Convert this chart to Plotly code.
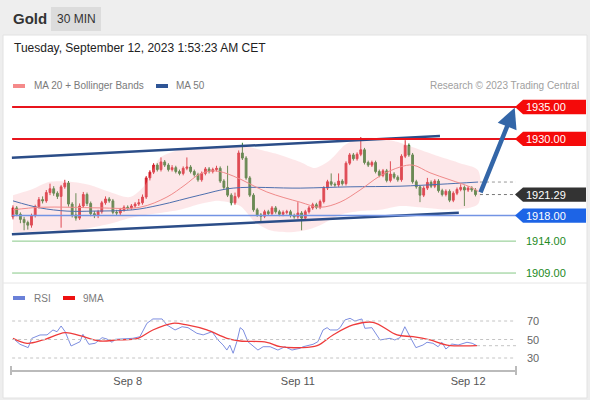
import plotly.graph_objects as go

# ---------------- data ----------------
opens = [1917.8, 1919.2, 1918.2, 1917.4, 1916.9, 1916.5, 1918.0, 1919.4, 1920.5, 1920.3,
         1921.6, 1922.2, 1921.5, 1921.0, 1922.5, 1923.1, 1919.8, 1918.1, 1917.6, 1919.5,
         1921.3, 1919.9, 1918.3, 1918.0, 1918.6, 1920.0, 1920.6, 1920.3, 1918.5, 1918.4,
         1918.9, 1919.3, 1919.2, 1919.5, 1919.8, 1920.0, 1920.9, 1923.9, 1924.8, 1925.9,
         1925.2, 1926.4, 1925.9, 1925.2, 1925.5, 1924.9, 1924.6, 1925.4, 1925.6, 1924.9,
         1924.4, 1923.6, 1924.6, 1925.3, 1924.9, 1925.2, 1925.4, 1923.4, 1922.4, 1921.2,
         1920.0, 1921.0, 1927.8, 1927.0, 1923.9, 1921.2, 1918.9, 1918.1, 1917.9, 1918.6,
         1918.3, 1919.2, 1918.6, 1918.2, 1918.5, 1918.6, 1918.0, 1917.8, 1918.4, 1917.6,
         1918.6, 1919.2, 1919.7, 1919.3, 1920.2, 1922.3, 1923.3, 1922.9, 1922.8, 1923.4,
         1923.0, 1926.2, 1927.5, 1926.9, 1927.6, 1928.3, 1926.3, 1925.9, 1926.3, 1924.9,
         1924.3, 1925.0, 1923.5, 1924.5, 1924.0, 1923.6, 1927.3, 1929.0, 1927.5, 1923.3,
         1922.5, 1921.2, 1922.3, 1923.2, 1922.6, 1923.4, 1921.9, 1921.3, 1921.8, 1920.4,
         1921.5, 1922.1, 1922.4, 1922.0, 1922.3, 1922.0]
highs = [1919.6, 1919.5, 1918.5, 1917.8, 1917.2, 1918.3, 1919.7, 1920.9, 1921.0, 1922.0,
         1923.0, 1922.6, 1921.8, 1922.8, 1923.6, 1923.4, 1920.1, 1921.5, 1919.9, 1921.7,
         1921.6, 1920.2, 1918.7, 1918.9, 1920.3, 1921.0, 1920.9, 1920.6, 1918.9, 1919.2,
         1919.6, 1919.6, 1919.8, 1920.1, 1920.6, 1921.3, 1924.2, 1925.1, 1926.2, 1926.2,
         1927.1, 1926.7, 1926.2, 1925.9, 1925.8, 1925.2, 1925.7, 1927.1, 1925.9, 1925.2,
         1924.7, 1924.9, 1925.6, 1925.6, 1925.5, 1925.8, 1925.7, 1923.7, 1925.8, 1921.5,
         1921.6, 1928.2, 1929.4, 1927.3, 1924.2, 1921.5, 1919.2, 1918.4, 1918.9, 1918.9,
         1919.5, 1919.5, 1918.9, 1918.8, 1918.9, 1918.9, 1918.3, 1920.1, 1918.7, 1918.9,
         1919.5, 1920.0, 1920.0, 1920.5, 1922.6, 1923.6, 1924.6, 1923.2, 1924.6, 1923.7,
         1926.5, 1927.8, 1927.8, 1927.9, 1930.3, 1928.6, 1926.6, 1926.6, 1926.6, 1925.2,
         1925.3, 1925.3, 1926.5, 1924.8, 1924.3, 1927.6, 1929.8, 1929.3, 1927.8, 1923.6,
         1922.8, 1922.6, 1923.9, 1923.5, 1923.7, 1923.7, 1922.2, 1922.1, 1922.1, 1921.8,
         1922.4, 1922.9, 1922.7, 1922.6, 1922.6, 1922.3]
lows = [1917.4, 1917.9, 1916.8, 1915.7, 1915.8, 1916.1, 1917.7, 1919.1, 1919.9, 1920.0,
        1921.2, 1921.1, 1920.6, 1916.1, 1922.2, 1919.4, 1917.7, 1917.2, 1917.3, 1919.2,
        1919.5, 1917.9, 1917.6, 1917.6, 1918.3, 1919.7, 1920.0, 1918.2, 1918.0, 1918.1,
        1918.6, 1918.9, 1918.9, 1919.2, 1919.5, 1919.7, 1920.6, 1923.5, 1924.5, 1924.9,
        1924.9, 1925.6, 1924.9, 1924.9, 1924.6, 1924.3, 1924.3, 1925.1, 1924.6, 1924.1,
        1923.3, 1923.3, 1924.3, 1924.6, 1924.6, 1924.9, 1923.1, 1922.1, 1920.9, 1919.6,
        1919.7, 1920.7, 1926.7, 1923.6, 1920.9, 1918.6, 1917.8, 1917.0, 1917.6, 1918.0,
        1918.0, 1918.3, 1917.9, 1917.9, 1918.2, 1917.7, 1917.5, 1917.5, 1915.7, 1917.3,
        1918.3, 1918.9, 1919.0, 1919.0, 1919.9, 1922.0, 1922.6, 1922.5, 1922.5, 1922.7,
        1922.7, 1925.9, 1926.6, 1926.6, 1927.3, 1926.0, 1925.6, 1925.6, 1924.6, 1924.0,
        1924.0, 1923.2, 1923.2, 1923.7, 1923.3, 1923.3, 1927.0, 1927.2, 1923.0, 1922.2,
        1920.1, 1920.9, 1922.0, 1922.3, 1922.3, 1921.6, 1921.0, 1921.0, 1920.1, 1920.1,
        1921.2, 1921.8, 1919.5, 1921.7, 1921.7, 1921.0]
closes = [1919.2, 1918.2, 1917.4, 1916.9, 1916.5, 1918.0, 1919.4, 1920.5, 1920.3, 1921.6,
          1922.2, 1921.5, 1921.0, 1922.5, 1923.1, 1919.8, 1918.1, 1917.6, 1919.5, 1921.3,
          1919.9, 1918.3, 1918.0, 1918.6, 1920.0, 1920.6, 1920.3, 1918.5, 1918.4, 1918.9,
          1919.3, 1919.2, 1919.5, 1919.8, 1920.0, 1920.9, 1923.9, 1924.8, 1925.9, 1925.2,
          1926.4, 1925.9, 1925.2, 1925.5, 1924.9, 1924.6, 1925.4, 1925.6, 1924.9, 1924.4,
          1923.6, 1924.6, 1925.3, 1924.9, 1925.2, 1925.4, 1923.4, 1922.4, 1921.2, 1920.0,
          1921.0, 1927.8, 1927.0, 1923.9, 1921.2, 1918.9, 1918.1, 1917.9, 1918.6, 1918.3,
          1919.2, 1918.6, 1918.2, 1918.5, 1918.6, 1918.0, 1917.8, 1918.4, 1917.6, 1918.6,
          1919.2, 1919.7, 1919.3, 1920.2, 1922.3, 1923.3, 1922.9, 1922.8, 1923.4, 1923.0,
          1926.2, 1927.5, 1926.9, 1927.6, 1928.3, 1926.3, 1925.9, 1926.3, 1924.9, 1924.3,
          1925.0, 1923.5, 1924.5, 1924.0, 1923.6, 1927.3, 1929.0, 1927.5, 1923.3, 1922.5,
          1921.2, 1922.3, 1923.2, 1922.6, 1923.4, 1921.9, 1921.3, 1921.8, 1920.4, 1921.5,
          1922.1, 1922.4, 1922.0, 1922.3, 1922.0, 1921.29]
bar_index = list(range(len(closes)))

tick_index = [31, 77, 123]
tick_labels = ["Sep 8", "Sep 11", "Sep 12"]

bb_upper_x = [0, 4.6, 10, 15.4, 20.8, 26.2, 31.6, 35.7, 39.7, 45.1, 50.5, 55.9, 61.4,
              66.8, 72.2, 77.6, 81.6, 85.7, 89.7, 93.8, 99.2, 104.6, 110, 115.4, 120.8, 125.7]
bb_upper = [1921.2, 1922.0, 1923.3, 1923.3, 1922.8, 1921.7, 1920.9, 1922.8, 1927.0, 1928.3,
            1928.6, 1928.6, 1929.05, 1928.3, 1927.5, 1926.4, 1925.45, 1926.7, 1929.05, 1930.1,
            1930.1, 1929.4, 1928.3, 1927.2, 1926.2, 1925.1]
bb_lower_x = [0, 4.6, 10, 15.4, 20.8, 26.2, 31.6, 35.7, 39.7, 45.1, 50.5, 55.9, 61.4,
              65.4, 69.5, 74.9, 78.9, 83, 88.4, 93.8, 99.2, 104.6, 110, 115.4, 120.8, 125.7]
bb_lower = [1915.4, 1915.4, 1915.7, 1915.4, 1916.05, 1916.7, 1917.6, 1918.1, 1918.4, 1918.9,
            1919.8, 1920.3, 1919.5, 1917.0, 1915.7, 1915.4, 1915.7, 1916.5, 1918.1, 1918.7,
            1918.9, 1919.5, 1919.3, 1919.0, 1919.0, 1919.8]
ma20_x = [0, 7.3, 15.4, 23.5, 34.3, 41.6, 46.5, 50.5, 54.6, 59.5, 68.6, 77.6, 83, 88.4,
          93.8, 99.2, 104.6, 108.1, 112.7, 118.1, 123.5, 125.7]
ma20 = [1918.9, 1919.3, 1919.3, 1919.2, 1919.3, 1920.9, 1922.8, 1924.5, 1925.0, 1924.2,
        1921.7, 1920.1, 1919.3, 1920.1, 1922.0, 1924.2, 1925.6, 1925.9, 1924.7, 1923.6,
        1922.5, 1921.8]
ma50_x = [0, 7.3, 14.6, 21.6, 32.4, 39.7, 50.5, 59.5, 77.6, 91.1, 104.6, 115.4, 125.7]
ma50 = [1920.3, 1919.2, 1918.7, 1918.7, 1918.9, 1919.65, 1921.2, 1922.3, 1922.3, 1922.5,
        1922.6, 1922.9, 1923.25]

rsi_x = [0, 1.9, 4.1, 5.1, 7.3, 9.2, 10.8, 11.9, 13, 14.1, 15.7, 17.3, 18.1, 18.9, 20.5,
         22.2, 24.1, 25.4, 26.8, 27.6, 32.4, 34.3, 36.2, 37.8, 40.3, 41.6, 43.8, 45.7, 47.3,
         49.7, 51.4, 53.8, 55.4, 56.8, 57.8, 58.6, 59.5, 60.5, 61.4, 62.2, 63.5, 66.2, 67.6,
         69.5, 71.6, 73.5, 75.4, 77.6, 78.4, 81.1, 82.4, 83.8, 84.9, 85.7, 87.6, 88.4, 89.7,
         91.1, 92.4, 94.3, 95.1, 97, 99.2, 101.9, 103.2, 104.6, 105.9, 107.3, 108.9, 110.8,
         111.9, 113.5, 114.9, 115.9, 117, 118.6, 120.3, 122.7, 124.1, 125.4]
rsi = [51.3, 44.8, 41.2, 51.3, 54.9, 55, 60.3, 58.4, 64.6, 58.4, 43, 45.9, 47.6, 55.6, 44.8,
       45.9, 52, 50.5, 47, 50.2, 51.3, 53, 67.5, 72.2, 72.2, 65.7, 60.3, 63.8, 62.8,
       56.7, 55, 58.4, 49.5, 44, 38.6, 44, 35.1, 47.6, 62.8, 60.3, 47.6, 38.6, 42.2,
       42.2, 38.6, 42.2, 38.6, 40.5, 42.2, 44.8, 47.6, 60.3, 62.8, 60.3, 60.3, 62.8, 71.1,
       72.9, 70, 72.2, 62.1, 62.8, 49.5, 51.3, 49.5, 52, 63.8, 53, 41.2, 44,
       47, 45.9, 42.2, 47, 39.7, 45.1, 44, 47, 45.9, 43.3]
rsi_ma_x = [0, 3.8, 8.1, 14.1, 18.1, 23.5, 28.1, 33.8, 37.8, 43.2, 47, 52.4, 57.8, 61.4,
            68.6, 72.2, 77.6, 82.2, 86.5, 91.9, 97.3, 103.8, 108.1, 112.7, 117.3, 125.4]
rsi_ma = [51.3, 45.9, 49.5, 57.4, 54.1, 48.4, 49.5, 51.3, 60.3, 67.5, 65.7, 60.3, 51.3, 48.4,
          47, 42.2, 41.2, 43.3, 54.9, 65.7, 68.6, 54.9, 53, 49.5, 44, 43.3]
rsi_levels = [70, 50, 30]

resistances = [1935.00, 1930.00]
pivot = 1918.00
supports = [1914.00, 1909.00]
last_price = 1921.29

channel_top_x = [-0.3, 115.4]
channel_top = [1927.07, 1930.46]
channel_bottom_x = [-0.3, 120.5]
channel_bottom = [1915.06, 1918.45]
arrow_start = (126.2, 1921.4)
arrow_end = (135.6, 1934.9)

# ---------------- layout helpers ----------------
W, H = 590, 400
FONT = "Liberation Sans, Arial, sans-serif"


def px(x):
    return x / W


def py(y):
    return 1 - y / H


X_RANGE = [-0.54, 135.95]
X_DOMAIN = [px(11), px(516)]
Y_RANGE = [1907.44, 1936.88]
Y_DOMAIN = [py(283), py(95)]
Y2_RANGE = [17.03, 92.70]
Y2_DOMAIN = [py(370), py(300)]

RED_UP = "#d4202b"
GREEN_DN = "#2f7a2c"

fig = go.Figure()

# Bollinger band fill
fig.add_trace(go.Scatter(
    x=bb_upper_x + bb_lower_x[::-1], y=bb_upper + bb_lower[::-1],
    fill="toself", fillcolor="rgba(250,175,182,0.30)", mode="lines",
    line=dict(width=0, shape="spline", smoothing=0.8), hoverinfo="skip",
    xaxis="x", yaxis="y"))
fig.add_trace(go.Scatter(x=ma50_x, y=ma50, mode="lines",
                         line=dict(color="#4d6fae", width=1, shape="spline"),
                         xaxis="x", yaxis="y"))
fig.add_trace(go.Scatter(x=ma20_x, y=ma20, mode="lines",
                         line=dict(color="#f08a8a", width=1, shape="spline"),
                         xaxis="x", yaxis="y"))

# channel lines
fig.add_trace(go.Scatter(x=channel_top_x, y=channel_top, mode="lines",
                         line=dict(color="#2b4d88", width=2.5), xaxis="x", yaxis="y"))
fig.add_trace(go.Scatter(x=channel_bottom_x, y=channel_bottom, mode="lines",
                         line=dict(color="#2b4d88", width=2.5), xaxis="x", yaxis="y"))

# candles
fig.add_trace(go.Candlestick(
    x=bar_index, open=opens, high=highs, low=lows, close=closes,
    increasing=dict(line=dict(color=RED_UP, width=1), fillcolor=RED_UP),
    decreasing=dict(line=dict(color=GREEN_DN, width=1), fillcolor=GREEN_DN),
    whiskerwidth=0, xaxis="x", yaxis="y"))

# RSI panel
fig.add_trace(go.Scatter(x=rsi_x, y=rsi, mode="lines",
                         line=dict(color="#7d8ee0", width=1), xaxis="x2", yaxis="y2"))
fig.add_trace(go.Scatter(x=rsi_ma_x, y=rsi_ma, mode="lines",
                         line=dict(color="#ee3b3b", width=1.3, shape="spline"),
                         xaxis="x2", yaxis="y2"))

shapes = []
annotations = []

# frame / header
shapes.append(dict(type="rect", xref="paper", yref="paper", x0=0, x1=1, y0=py(35), y1=1,
                   fillcolor="#eeeeee", line=dict(width=0), layer="below"))
shapes.append(dict(type="rect", xref="paper", yref="paper", x0=px(3), x1=px(587), y0=py(398),
                   y1=py(35), fillcolor="#ffffff", line=dict(color="#e2e2e2", width=1),
                   layer="below"))
shapes.append(dict(type="rect", xref="paper", yref="paper", x0=px(51), x1=px(101), y0=py(31),
                   y1=py(7), fillcolor="#dcdcdc", line=dict(width=0), layer="below"))
shapes.append(dict(type="line", xref="paper", yref="paper", x0=px(3), x1=px(587), y0=py(283),
                   y1=py(283), line=dict(color="#e6e6e6", width=1)))

# level lines
for lv in resistances:
    shapes.append(dict(type="line", xref="x", yref="y", x0=X_RANGE[0] + 0.3, x1=X_RANGE[1],
                       y0=lv, y1=lv, line=dict(color="#e8141c", width=2)))
for lv in supports:
    shapes.append(dict(type="line", xref="x", yref="y", x0=X_RANGE[0] + 0.3, x1=X_RANGE[1],
                       y0=lv, y1=lv, line=dict(color="#86c886", width=1)))
shapes.append(dict(type="line", xref="x", yref="y", x0=X_RANGE[0] + 0.3, x1=X_RANGE[1],
                   y0=pivot, y1=pivot, line=dict(color="#7394e4", width=1.5)))
# dotted extensions
shapes.append(dict(type="line", xref="x", yref="y", x0=bar_index[-1] + 1.2, x1=X_RANGE[1],
                   y0=last_price, y1=last_price, line=dict(color="#777777", width=1, dash="dot")))
shapes.append(dict(type="line", xref="x", yref="y", x0=bar_index[-1] + 1.2, x1=X_RANGE[1],
                   y0=ma50[-1], y1=ma50[-1], line=dict(color="#999999", width=1, dash="dot")))


def tag(price, color):
    h = 1.12
    xt, xl, xr = px(515), px(523), px(586)
    path = (f"M {xt} {price} L {xl} {price + h} L {xr} {price + h} "
            f"L {xr} {price - h} L {xl} {price - h} Z")
    shapes.append(dict(type="path", xref="paper", yref="y", path=path,
                       fillcolor=color, line=dict(width=0)))


def price_text(price, color):
    annotations.append(dict(xref="paper", yref="y", x=px(546), y=price, text=f"{price:.2f}",
                            xanchor="center", yanchor="middle", showarrow=False,
                            font=dict(color=color, size=11, family=FONT)))


for lv in resistances:
    tag(lv, "#f50a0a")
    price_text(lv, "white")
tag(last_price, "#333333")
price_text(last_price, "white")
tag(pivot, "#1d64e6")
price_text(pivot, "white")
for lv in supports:
    price_text(lv, "#238a23")

# arrow
annotations.append(dict(x=arrow_end[0], y=arrow_end[1], ax=arrow_start[0], ay=arrow_start[1],
                        xref="x", yref="y", axref="x", ayref="y", showarrow=True, text="",
                        arrowhead=2, arrowsize=0.9, arrowwidth=4.5, arrowcolor="#3366a8"))

# RSI levels
for lv in rsi_levels:
    shapes.append(dict(type="line", xref="x2", yref="y2", x0=X_RANGE[0] + 0.3, x1=X_RANGE[1],
                       y0=lv, y1=lv, line=dict(color="#c4c4c4", width=1, dash="dot")))
    annotations.append(dict(xref="paper", yref="y2", x=px(525), y=lv, text=str(lv),
                            xanchor="left", yanchor="middle", showarrow=False,
                            font=dict(color="#666666", size=11, family=FONT)))
shapes.append(dict(type="line", xref="x2", yref="y2", x0=rsi_x[-1], x1=X_RANGE[1],
                   y0=rsi[-1], y1=rsi[-1], line=dict(color="#c4c4c4", width=1, dash="dot")))
# axis end ticks
for xe in (11, 516):
    shapes.append(dict(type="line", xref="paper", yref="paper", x0=px(xe), x1=px(xe),
                       y0=py(366), y1=py(375), line=dict(color="#bbbbbb", width=2)))

# header text
annotations.append(dict(xref="paper", yref="paper", x=px(11), y=py(18), text="<b>Gold</b>",
                        xanchor="left", yanchor="middle", showarrow=False,
                        font=dict(color="#333333", size=15, family=FONT)))
annotations.append(dict(xref="paper", yref="paper", x=px(76), y=py(19), text="30 MIN",
                        xanchor="center", yanchor="middle", showarrow=False,
                        font=dict(color="#333333", size=12, family=FONT)))
annotations.append(dict(xref="paper", yref="paper", x=px(12), y=py(48),
                        text="Tuesday, September 12, 2023 1:53:23 AM CET",
                        xanchor="left", yanchor="middle", showarrow=False,
                        font=dict(color="#222222", size=12, family=FONT)))
annotations.append(dict(xref="paper", yref="paper", x=px(581), y=py(86),
                        text="Research © 2023 Trading Central", xanchor="right",
                        yanchor="middle", showarrow=False,
                        font=dict(color="#a0a0a0", size=10, family=FONT)))


# legends
def legend_item(x0, y, color, label, dx):
    shapes.append(dict(type="rect", xref="paper", yref="paper", x0=px(x0), x1=px(x0 + 12),
                       y0=py(y + 2), y1=py(y - 2), fillcolor=color, line=dict(width=0)))
    annotations.append(dict(xref="paper", yref="paper", x=px(x0 + dx), y=py(y), text=label,
                            xanchor="left", yanchor="middle", showarrow=False,
                            font=dict(color="#7a7a7a", size=10, family=FONT)))


legend_item(13, 86, "#f58a8a", "MA 20 + Bollinger Bands", 19)
legend_item(156, 86, "#2f5596", "MA 50", 18)
legend_item(13, 298, "#6a80d8", "RSI", 19)
legend_item(63, 298, "#ee1111", "9MA", 18)

fig.update_layout(
    width=W, height=H, autosize=False,
    margin=dict(l=0, r=0, t=0, b=0),
    paper_bgcolor="#eeeeee", plot_bgcolor="rgba(0,0,0,0)",
    showlegend=False, hovermode=False,
    font=dict(family=FONT),
    xaxis=dict(domain=X_DOMAIN, range=X_RANGE, anchor="y", showgrid=False, zeroline=False,
               showticklabels=False, rangeslider=dict(visible=False), fixedrange=True),
    yaxis=dict(domain=Y_DOMAIN, range=Y_RANGE, anchor="x", showgrid=False, zeroline=False,
               showticklabels=False),
    xaxis2=dict(domain=X_DOMAIN, range=X_RANGE, anchor="y2", showgrid=False, zeroline=False,
                showline=True, linecolor="#bbbbbb", linewidth=2,
                tickvals=tick_index, ticktext=tick_labels, ticks="",
                tickfont=dict(color="#555555", size=11, family=FONT)),
    yaxis2=dict(domain=Y2_DOMAIN, range=Y2_RANGE, anchor="x2", showgrid=False, zeroline=False,
                showticklabels=False),
    shapes=shapes, annotations=annotations,
)

fig.write_html("out.html", config={"displayModeBar": False},
               post_script="document.body.style.margin='0';")
